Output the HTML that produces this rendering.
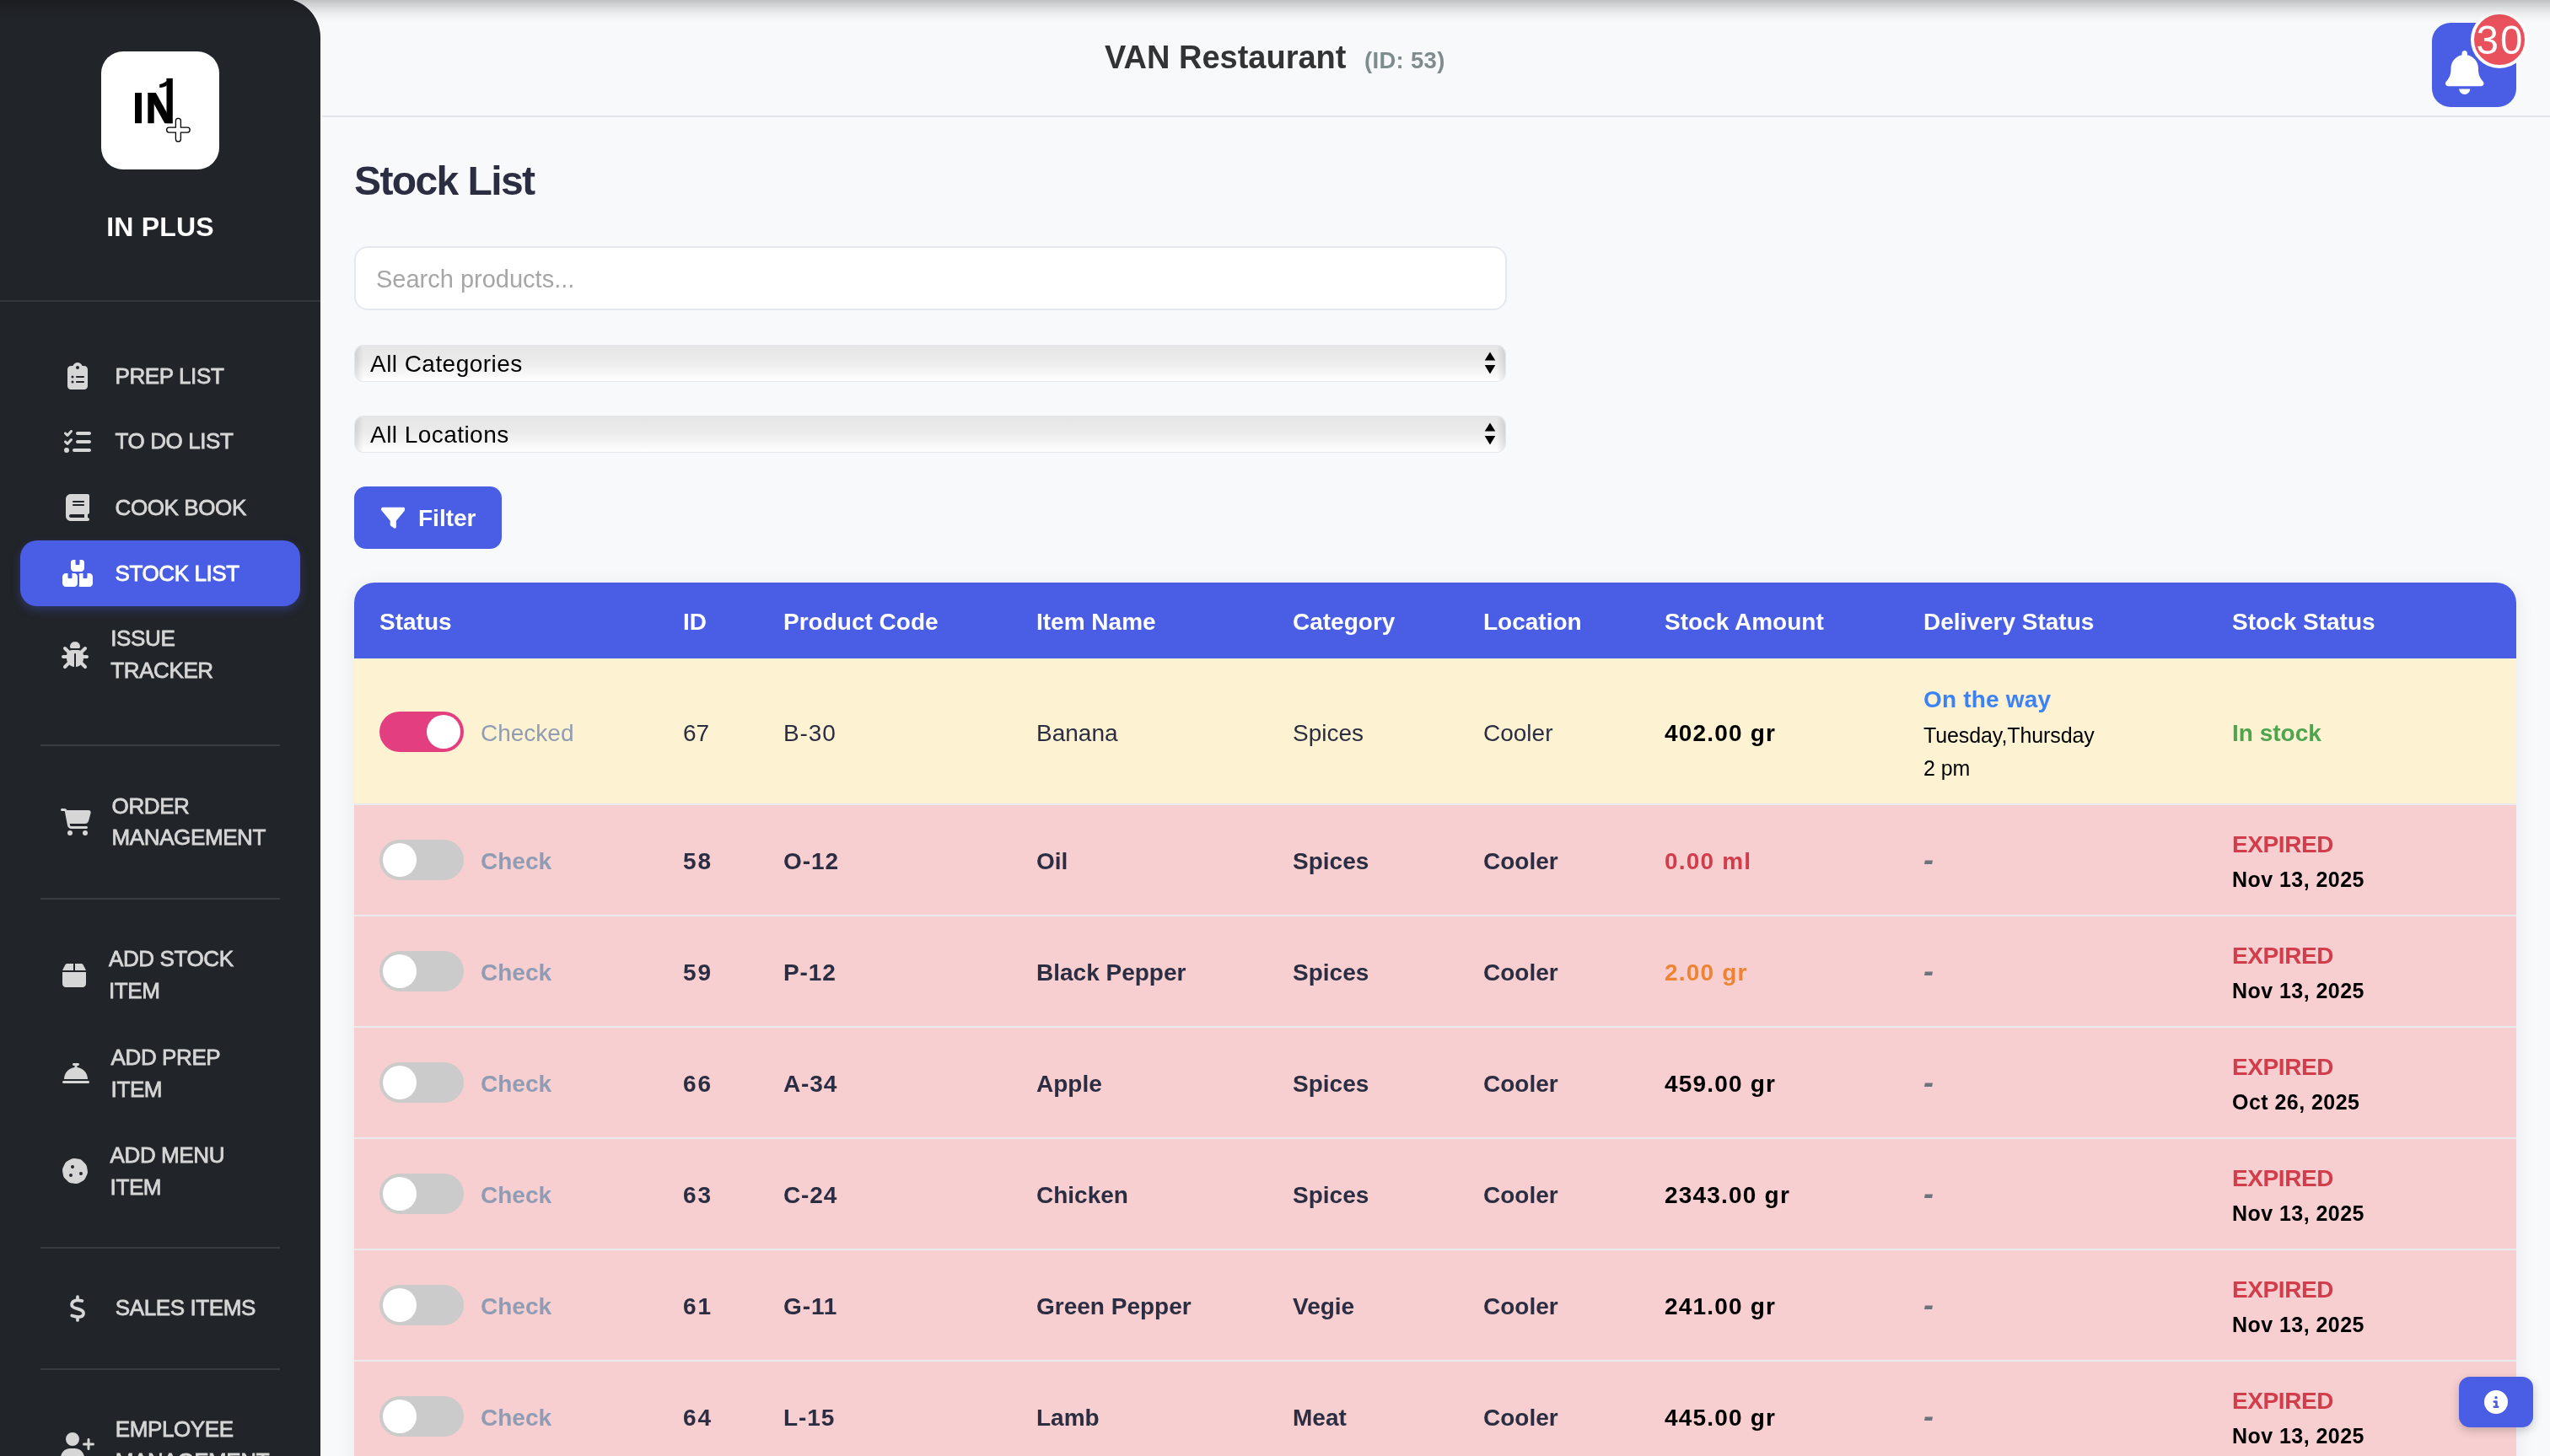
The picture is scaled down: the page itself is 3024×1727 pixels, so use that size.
<!DOCTYPE html>
<html lang="en">
<head>
<meta charset="utf-8">
<title>Stock List</title>
<style>
*{box-sizing:border-box;margin:0;padding:0}
html,body{width:3024px;height:1727px;overflow:hidden}
body{font-family:"Liberation Sans",sans-serif;background:#f8f9fb;position:relative;color:#2b2d42}
.abs{position:absolute}
/* top shadow */
#topshade{left:0;top:0;width:3024px;height:30px;background:linear-gradient(to bottom,rgba(0,0,0,.225) 0,rgba(0,0,0,.153) 5.5px,rgba(0,0,0,.093) 11px,rgba(0,0,0,.048) 16.5px,rgba(0,0,0,.016) 22px,rgba(0,0,0,0) 28px)}
/* sidebar */
#sidebar{left:0;top:-2px;width:380px;height:1729px;background:#212429;border-top-right-radius:46px 46px;overflow:hidden;box-shadow:2px 0 0 rgba(255,255,255,.55)}
#logo{left:120px;top:61px;width:140px;height:140px;background:#fff;border-radius:26px}
#brand{left:0;top:247px;width:380px;text-align:center;color:#fff;font-weight:700;font-size:32px;line-height:44px;letter-spacing:.2px}
.sdiv{left:48px;width:284px;height:2px;background:#393c42}
#shdiv{left:0;top:356px;width:380px;height:2px;background:#33363c}
.nav{color:#d6d6d6;font-size:26px;line-height:38px;font-weight:400;letter-spacing:-.4px;white-space:nowrap;-webkit-text-stroke:.8px #d6d6d6}
.nav.on{color:#fff;-webkit-text-stroke:.8px #fff}
#active{left:24px;top:641px;width:332px;height:78px;background:#4a5ee5;border-radius:20px;box-shadow:0 5px 12px -1px rgba(74,94,229,.36)}
.ico{position:absolute;fill:#d6d6d6}
/* header */
#hline{left:380px;top:137px;width:2644px;height:2px;background:#e2e5ec}
#title{left:1310px;top:44px;font-weight:700;font-size:38px;line-height:48px;color:#333;white-space:nowrap}
#rid{left:1618px;top:52px;font-weight:700;font-size:27.5px;letter-spacing:.3px;line-height:40px;color:#7f8c8d;white-space:nowrap}
#bell{left:2884px;top:27px;width:100px;height:100px;border-radius:22px;background:#4a5ee5}
#badge{left:2930px;top:13px;width:68px;height:68px;border-radius:50%;background:#e9525c;border:4px solid #fdfdfe;color:#fff;font-size:47.5px;line-height:62px;text-align:center;letter-spacing:2px;padding-left:2px}
/* content */
#h1{left:420px;top:186.300px;letter-spacing:-1.600px;font-size:48px;line-height:58px;font-weight:700;color:#2b2d42;white-space:nowrap}
#search{left:420px;top:292px;width:1367px;height:76px;border:2px solid #e6e8ef;border-radius:16px;background:#fff;color:#a6a6a6;font-size:29px;line-height:74px;padding-left:24px}
.sel{left:421px;width:1364px;height:42px;border-radius:10px;background:linear-gradient(to bottom,#e6e6e7 0,#eaeaea 40%,#f4f4f4 70%,#fefefe 100%);box-shadow:0 0 0 1px #e4e6ec;color:#000;font-size:28px;letter-spacing:.45px;line-height:44px;padding-left:18px;overflow:hidden}
.sel:before,.sel:after{content:"";position:absolute;top:0;width:10px;height:42px}
.sel:before{left:0;background:linear-gradient(to right,rgba(0,0,0,.10),rgba(0,0,0,0))}
.sel:after{right:0;background:linear-gradient(to left,rgba(0,0,0,.10),rgba(0,0,0,0))}
#filter{left:420px;top:577px;width:175px;height:74px;border-radius:14px;background:#4a5ee5;color:#fff;font-weight:700;font-size:28px;line-height:74px}
#filter span{position:absolute;left:76px;top:1px}
/* table */
#tbl{left:420px;top:691px;width:2564px;height:1100px;border-radius:24px 24px 0 0;overflow:hidden;box-shadow:0 4px 24px rgba(0,0,0,.07)}
#thead{left:0;top:0;width:2564px;height:90px;background:#4a5ee5;color:#fff;font-weight:700;font-size:28px;line-height:90px}
#thead span{position:absolute;top:2px;white-space:nowrap}
.row{left:0;width:2564px;height:132px;background:#f8cfd0;border-bottom:2px solid #e9e9ee;font-size:28px;font-weight:700;color:#2b2d42}
.row.y{background:#fdf2d1;height:174px;font-weight:400}
.row span{position:absolute;white-space:nowrap;line-height:40px}
.c1{left:150px;color:#8f9cb3}
.c2{left:390px}.c3{left:509px}.c4{left:809px}.c5{left:1113px}.c6{left:1339px}.c7{left:1554px}.c8{left:1861px}.c9{left:2227px}
.row span.mid{top:47px}
.row.y span.mid{top:69px}
.sw{position:absolute;left:30px;width:100px;height:48px;border-radius:24px;background:#cbcbcb;top:41px}
.sw i{position:absolute;left:4px;top:4px;width:40px;height:40px;border-radius:50%;background:#fff}
.sw.on{background:#e23e80;top:63px}
.sw.on i{left:56px}
.red{color:#d13d4a}.org{color:#ee8433}.blk{color:#000}.dash{color:#6c757d;font-size:36px;letter-spacing:0;font-style:italic;transform:translateY(-2.200px)}
.exp{color:#d13d4a;top:27px;letter-spacing:-.4px}
.dt{color:#000;font-size:25px;top:68px;letter-spacing:.45px}
.otw{color:#3b82f6;top:28.5px;font-weight:700;letter-spacing:.2px}
.d1,.d2{color:#000;font-weight:400;font-size:25px;letter-spacing:-.1px}
.d1{top:70.5px}.d2{top:110px}
.ins{color:#4fa44f;font-weight:700}
.b{font-weight:700}
.c7{letter-spacing:1.2px}
.row:not(.y) .c2{letter-spacing:2px}
.c3{letter-spacing:.9px}
#info{left:2916px;top:1633px;width:88px;height:60px;border-radius:13px;background:#4a5ee5;box-shadow:0 4px 12px rgba(0,0,0,.2)}
</style>
</head>
<body>
<div id="wrap" class="abs" style="left:0;top:0;width:3024px;height:1727px;will-change:transform;overflow:hidden">

<div id="hline" class="abs"></div>
<div id="title" class="abs">VAN Restaurant</div>
<div id="rid" class="abs">(ID: 53)</div>
<div id="bell" class="abs">
<svg class="abs" style="left:16px;top:32.700px" width="45.500" height="52" viewBox="0 0 448 512"><path fill="#fff" d="M224 0c-17.700 0-32 14.300-32 32l0 19.200C119 66 64 130.600 64 208l0 18.800c0 47-17.300 92.400-48.500 127.600l-7.400 8.300c-8.400 9.400-10.400 22.900-5.300 34.400S19.400 416 32 416l384 0c12.600 0 24-7.400 29.200-18.900s3.100-25-5.300-34.400l-7.400-8.300C401.300 319.200 384 273.900 384 226.800l0-18.800c0-77.400-55-142-128-156.800L256 32c0-17.700-14.300-32-32-32zm45.300 493.300c12-12 18.700-28.300 18.700-45.300l-64 0-64 0c0 17 6.700 33.300 18.700 45.300s28.300 18.700 45.300 18.700s33.300-6.700 45.300-18.700z"/></svg>
</div>
<div id="badge" class="abs">30</div>

<div id="h1" class="abs">Stock List</div>
<div id="search" class="abs">Search products...</div>
<div class="abs sel" style="top:410px">All Categories<svg class="abs" style="right:11.400px;top:7px" width="14" height="27" viewBox="0 0 14 27"><path d="M7 0.500L13.300 10.500H0.700ZM7 26.500L13.300 16H0.700Z" fill="#000"/></svg></div>
<div class="abs sel" style="top:494px">All Locations<svg class="abs" style="right:11.400px;top:7px" width="14" height="27" viewBox="0 0 14 27"><path d="M7 0.500L13.300 10.500H0.700ZM7 26.500L13.300 16H0.700Z" fill="#000"/></svg></div>
<div id="filter" class="abs"><svg class="abs" style="left:31.500px;top:22.500px" width="28.500" height="28.500" viewBox="0 0 512 512"><path fill="#fff" d="M3.900 54.900C10.500 40.900 24.500 32 40 32l432 0c15.500 0 29.500 8.900 36.100 22.900s4.600 30.500-5.200 42.500L320 320.900 320 448c0 12.100-6.800 23.200-17.700 28.600s-23.800 4.300-33.500-3l-64-48c-8.100-6-12.800-15.500-12.800-25.600l0-79.100L9 97.300C-.7 85.400-2.800 68.800 3.900 54.900z"/></svg><span>Filter</span></div>

<div id="tbl" class="abs">
<div id="thead" class="abs"><span style="left:30px">Status</span><span style="left:390px">ID</span><span style="left:509px">Product Code</span><span style="left:809px">Item Name</span><span style="left:1113px">Category</span><span style="left:1339px">Location</span><span style="left:1554px">Stock Amount</span><span style="left:1861px">Delivery Status</span><span style="left:2227px">Stock Status</span></div>
<div class="abs row y" style="top:90px"><div class="sw on"><i></i></div><span class="c1 mid">Checked</span><span class="c2 mid">67</span><span class="c3 mid">B-30</span><span class="c4 mid">Banana</span><span class="c5 mid">Spices</span><span class="c6 mid">Cooler</span><span class="c7 mid blk b">402.00 gr</span><span class="c8 otw">On the way</span><span class="c8 d1">Tuesday,Thursday</span><span class="c8 d2">2 pm</span><span class="c9 mid ins">In stock</span></div>
<div class="abs row" style="top:264px"><div class="sw"><i></i></div><span class="c1 mid">Check</span><span class="c2 mid">58</span><span class="c3 mid">O-12</span><span class="c4 mid">Oil</span><span class="c5 mid">Spices</span><span class="c6 mid">Cooler</span><span class="c7 mid red">0.00 ml</span><span class="c8 mid dash">-</span><span class="c9 exp">EXPIRED</span><span class="c9 dt">Nov 13, 2025</span></div>
<div class="abs row" style="top:396px"><div class="sw"><i></i></div><span class="c1 mid">Check</span><span class="c2 mid">59</span><span class="c3 mid">P-12</span><span class="c4 mid">Black Pepper</span><span class="c5 mid">Spices</span><span class="c6 mid">Cooler</span><span class="c7 mid org">2.00 gr</span><span class="c8 mid dash">-</span><span class="c9 exp">EXPIRED</span><span class="c9 dt">Nov 13, 2025</span></div>
<div class="abs row" style="top:528px"><div class="sw"><i></i></div><span class="c1 mid">Check</span><span class="c2 mid">66</span><span class="c3 mid">A-34</span><span class="c4 mid">Apple</span><span class="c5 mid">Spices</span><span class="c6 mid">Cooler</span><span class="c7 mid blk">459.00 gr</span><span class="c8 mid dash">-</span><span class="c9 exp">EXPIRED</span><span class="c9 dt">Oct 26, 2025</span></div>
<div class="abs row" style="top:660px"><div class="sw"><i></i></div><span class="c1 mid">Check</span><span class="c2 mid">63</span><span class="c3 mid">C-24</span><span class="c4 mid">Chicken</span><span class="c5 mid">Spices</span><span class="c6 mid">Cooler</span><span class="c7 mid blk">2343.00 gr</span><span class="c8 mid dash">-</span><span class="c9 exp">EXPIRED</span><span class="c9 dt">Nov 13, 2025</span></div>
<div class="abs row" style="top:792px"><div class="sw"><i></i></div><span class="c1 mid">Check</span><span class="c2 mid">61</span><span class="c3 mid">G-11</span><span class="c4 mid">Green Pepper</span><span class="c5 mid">Vegie</span><span class="c6 mid">Cooler</span><span class="c7 mid blk">241.00 gr</span><span class="c8 mid dash">-</span><span class="c9 exp">EXPIRED</span><span class="c9 dt">Nov 13, 2025</span></div>
<div class="abs row" style="top:924px"><div class="sw"><i></i></div><span class="c1 mid">Check</span><span class="c2 mid">64</span><span class="c3 mid">L-15</span><span class="c4 mid">Lamb</span><span class="c5 mid">Meat</span><span class="c6 mid">Cooler</span><span class="c7 mid blk">445.00 gr</span><span class="c8 mid dash">-</span><span class="c9 exp">EXPIRED</span><span class="c9 dt">Nov 13, 2025</span></div>
</div>

<div id="info" class="abs"><svg class="abs" style="left:30px;top:16px" width="28" height="28" viewBox="0 0 512 512"><path fill="#fff" d="M256 512A256 256 0 1 0 256 0a256 256 0 1 0 0 512zM216 336l24 0 0-64-24 0c-13.300 0-24-10.700-24-24s10.700-24 24-24l48 0c13.300 0 24 10.700 24 24l0 88 8 0c13.300 0 24 10.700 24 24s-10.700 24-24 24l-80 0c-13.300 0-24-10.700-24-24s10.700-24 24-24zm40-208a32 32 0 1 1 0 64 32 32 0 1 1 0-64z"/></svg></div>

<div id="sidebar" class="abs"><div class="abs" style="left:0;top:2px;width:380px;height:1727px">
<div id="logo" class="abs"><svg class="abs" style="left:0;top:0" width="140" height="140" viewBox="0 0 140 140"><g fill="#000"><rect x="40" y="49.100" width="8" height="36.100"/><rect x="55.300" y="49.100" width="7.400" height="36.100"/><path d="M55.300 49.100H64.800L84.800 85.200H75.300Z"/><rect x="77.500" y="31.900" width="7.300" height="53.300"/><path d="M79.800 31.900C77.500 36 73.500 38.400 69.200 38.900V43.100C72.700 42.900 75.600 42 77.800 40.600V31.900Z"/></g><path d="M88.400 82.300a3 3 0 0 1 6 0V90.100H102.200a3 3 0 0 1 0 6H94.400V103.900a3 3 0 0 1-6 0V96.100H80.600a3 3 0 0 1 0-6H88.400Z" fill="#fff" stroke="#000" stroke-width="1.300"/></svg></div>
<div id="brand" class="abs">IN PLUS</div>
<div id="shdiv" class="abs"></div>
<div id="active" class="abs"></div>
<div class="abs nav" style="left:136.5px;top:426.7px">PREP LIST</div>
<div class="abs nav" style="left:136.5px;top:504.3px">TO DO LIST</div>
<div class="abs nav" style="left:136.5px;top:582.7px">COOK BOOK</div>
<div class="abs nav on" style="left:136.5px;top:660.8px">STOCK LIST</div>
<div class="abs nav" style="left:131.300px;top:738.300px">ISSUE</div>
<div class="abs nav" style="left:131.300px;top:775.500px">TRACKER</div>
<div class="abs nav" style="left:132.6px;top:936.5px">ORDER</div>
<div class="abs nav" style="left:132.6px;top:974.4px">MANAGEMENT</div>
<div class="abs nav" style="left:129px;top:1118.3px">ADD STOCK</div>
<div class="abs nav" style="left:129px;top:1156.2px">ITEM</div>
<div class="abs nav" style="left:131.6px;top:1235.2px">ADD PREP</div>
<div class="abs nav" style="left:131.6px;top:1272.7px">ITEM</div>
<div class="abs nav" style="left:130.6px;top:1351.2px">ADD MENU</div>
<div class="abs nav" style="left:130.6px;top:1388.7px">ITEM</div>
<div class="abs nav" style="left:136.8px;top:1532.2px">SALES ITEMS</div>
<div class="abs nav" style="left:136.8px;top:1676.4px">EMPLOYEE</div>
<div class="abs nav" style="left:136.8px;top:1714px">MANAGEMENT</div>
<div class="abs sdiv" style="top:883px"></div>
<div class="abs sdiv" style="top:1065px"></div>
<div class="abs sdiv" style="top:1479px"></div>
<div class="abs sdiv" style="top:1623px"></div>
<svg class="ico" style="left:80px;top:430px" width="24" height="32" viewBox="0 0 384 512"><path fill="#d6d6d6" fill-rule="evenodd" d="M192 0c-41.800 0-77.400 26.700-90.500 64L64 64C28.700 64 0 92.700 0 128L0 448c0 35.300 28.700 64 64 64l256 0c35.300 0 64-28.700 64-64l0-320c0-35.300-28.700-64-64-64l-37.500 0C269.400 26.700 233.800 0 192 0zm0 64a32 32 0 1 1 0 64 32 32 0 1 1 0-64zM72 272a24 24 0 1 1 48 0 24 24 0 1 1 -48 0zm104-16l128 0c8.800 0 16 7.200 16 16s-7.200 16-16 16l-128 0c-8.800 0-16-7.200-16-16s7.200-16 16-16zM72 368a24 24 0 1 1 48 0 24 24 0 1 1 -48 0zm88 0c0-8.800 7.200-16 16-16l128 0c8.800 0 16 7.200 16 16s-7.200 16-16 16l-128 0c-8.800 0-16-7.200-16-16z"/></svg>
<svg class="ico" style="left:76px;top:507.5px" width="32" height="32" viewBox="0 0 512 512"><path fill="#d6d6d6" fill-rule="evenodd" d="M152.100 38.200c9.900 8.900 10.700 24 1.800 33.900l-72 80c-4.400 4.900-10.600 7.800-17.200 7.900s-12.900-2.400-17.600-7L7 113C-2.300 103.600-2.300 88.400 7 79s24.600-9.400 33.900 0l22.100 22.100 55.100-61.200c8.900-9.900 24-10.700 33.900-1.800zm0 160c9.900 8.900 10.700 24 1.800 33.900l-72 80c-4.400 4.900-10.600 7.800-17.200 7.900s-12.900-2.400-17.600-7L7 273c-9.400-9.400-9.400-24.600 0-33.900s24.600-9.400 33.900 0l22.100 22.100 55.100-61.200c8.900-9.900 24-10.700 33.900-1.800zM224 96c0-17.700 14.300-32 32-32l224 0c17.700 0 32 14.300 32 32s-14.300 32-32 32l-224 0c-17.700 0-32-14.300-32-32zm0 160c0-17.700 14.300-32 32-32l224 0c17.700 0 32 14.300 32 32s-14.300 32-32 32l-224 0c-17.700 0-32-14.300-32-32zM160 416c0-17.700 14.300-32 32-32l288 0c17.700 0 32 14.300 32 32s-14.300 32-32 32l-288 0c-17.700 0-32-14.300-32-32zM48 368a48 48 0 1 1 0 96 48 48 0 1 1 0-96z"/></svg>
<svg class="ico" style="left:78px;top:586px" width="28" height="32" viewBox="0 0 448 512"><path fill="#d6d6d6" fill-rule="evenodd" d="M96 0C43 0 0 43 0 96L0 416c0 53 43 96 96 96l288 0 32 0c17.700 0 32-14.300 32-32s-14.300-32-32-32l0-64c17.700 0 32-14.300 32-32l0-320c0-17.700-14.300-32-32-32L384 0 96 0zm0 384l256 0 0 64L96 448c-17.700 0-32-14.300-32-32s14.300-32 32-32zm32-240c0-8.800 7.200-16 16-16l192 0c8.800 0 16 7.200 16 16s-7.200 16-16 16l-192 0c-8.800 0-16-7.200-16-16zm16 48l192 0c8.800 0 16 7.200 16 16s-7.200 16-16 16l-192 0c-8.800 0-16-7.200-16-16s7.200-16 16-16z"/></svg>
<svg class="ico" style="left:74px;top:664px" width="36" height="32" viewBox="0 0 576 512"><path fill="#fff" fill-rule="evenodd" d="M248 0L208 0c-26.500 0-48 21.500-48 48l0 112c0 35.300 28.700 64 64 64l128 0c35.300 0 64-28.700 64-64l0-112c0-26.500-21.500-48-48-48L328 0l0 80c0 8.800-7.200 16-16 16l-48 0c-8.800 0-16-7.200-16-16l0-80zM64 256c-35.300 0-64 28.700-64 64L0 448c0 35.300 28.700 64 64 64l160 0c35.300 0 64-28.700 64-64l0-128c0-35.300-28.700-64-64-64l-40 0 0 80c0 8.800-7.200 16-16 16l-48 0c-8.800 0-16-7.200-16-16l0-80-40 0zM352 512l160 0c35.300 0 64-28.700 64-64l0-128c0-35.300-28.700-64-64-64l-40 0 0 80c0 8.800-7.200 16-16 16l-48 0c-8.800 0-16-7.200-16-16l0-80-40 0c-15 0-28.800 5.100-39.700 13.800c4.900 10.400 7.700 22 7.700 34.200l0 160c0 12.200-2.800 23.800-7.700 34.200C323.200 506.900 337 512 352 512z"/></svg>
<svg class="ico" style="left:72.700px;top:761px" width="32" height="32" viewBox="0 0 512 512"><path fill="#d6d6d6" fill-rule="evenodd" d="M256 0c53 0 96 43 96 96l0 3.600c0 15.700-12.700 28.400-28.400 28.400l-135.100 0c-15.700 0-28.400-12.700-28.400-28.400l0-3.600c0-53 43-96 96-96zM41.400 105.400c12.500-12.500 32.800-12.500 45.300 0l64 64c.7 .7 1.300 1.400 1.900 2.100c14.200-7.300 30.400-11.400 47.500-11.400l112 0c17.100 0 33.200 4.100 47.500 11.400c.6-.7 1.200-1.400 1.900-2.100l64-64c12.500-12.500 32.800-12.500 45.300 0s12.500 32.800 0 45.300l-64 64c-.7 .7-1.400 1.300-2.100 1.900c6.200 12 10.100 25.300 11.100 39.500l64.300 0c17.700 0 32 14.300 32 32s-14.300 32-32 32l-64 0c0 24.600-5.500 47.800-15.400 68.600c2.200 1.300 4.200 2.900 6 4.800l64 64c12.500 12.500 12.500 32.800 0 45.300s-32.800 12.500-45.300 0l-63.100-63.100c-24.500 21.800-55.800 36.200-90.300 39.600L272 240c0-8.800-7.200-16-16-16s-16 7.200-16 16l0 239.200c-34.500-3.400-65.800-17.800-90.300-39.600L86.600 502.600c-12.500 12.500-32.800 12.500-45.300 0s-12.500-32.800 0-45.300l64-64c1.900-1.900 3.900-3.400 6-4.800C101.500 367.800 96 344.600 96 320l-64 0c-17.700 0-32-14.300-32-32s14.300-32 32-32l64.300 0c1.100-14.100 5-27.500 11.100-39.500c-.7-.6-1.400-1.200-2.100-1.900l-64-64c-12.500-12.500-12.500-32.800 0-45.300z"/></svg>
<svg class="ico" style="left:72px;top:959px" width="36" height="32" viewBox="0 0 576 512"><path fill="#d6d6d6" fill-rule="evenodd" d="M0 24C0 10.700 10.700 0 24 0L69.500 0c22 0 41.500 12.800 50.600 32l411 0c26.300 0 45.500 25 38.600 50.400l-41 152.300c-8.500 31.400-37 53.300-69.500 53.300l-288.500 0 5.400 28.500c2.200 11.300 12.100 19.500 23.600 19.500L488 336c13.300 0 24 10.700 24 24s-10.700 24-24 24l-288.300 0c-34.600 0-64.300-24.600-70.700-58.500L77.400 54.500c-.7-3.800-4-6.500-7.900-6.500L24 48C10.700 48 0 37.300 0 24zM128 464a48 48 0 1 1 96 0 48 48 0 1 1 -96 0zm336-48a48 48 0 1 1 0 96 48 48 0 1 1 0-96z"/></svg>
<svg class="ico" style="left:74px;top:1140.5px" width="28" height="32" viewBox="0 0 448 512"><path fill="#d6d6d6" fill-rule="evenodd" d="M50.700 58.500L0 160l208 0 0-128L93.700 32C75.500 32 58.900 42.300 50.700 58.500zM240 160l208 0L397.300 58.500C389.100 42.300 372.500 32 354.300 32L240 32l0 128zm208 32L0 192 0 416c0 35.300 28.700 64 64 64l320 0c35.300 0 64-28.700 64-64l0-224z"/></svg>
<svg class="ico" style="left:73.5px;top:1257px" width="32" height="32" viewBox="0 0 512 512"><path fill="#d6d6d6" fill-rule="evenodd" d="M216 64c-13.300 0-24 10.700-24 24s10.700 24 24 24l16 0 0 33.300C119.600 157.200 32 252.400 32 368l448 0c0-115.600-87.600-210.800-200-222.700l0-33.300 16 0c13.300 0 24-10.700 24-24s-10.700-24-24-24l-40 0-40 0zM24 400c-13.300 0-24 10.700-24 24s10.700 24 24 24l464 0c13.300 0 24-10.700 24-24s-10.700-24-24-24L24 400z"/></svg>
<svg class="ico" style="left:73px;top:1373px" width="32" height="32" viewBox="0 0 512 512"><path fill="#d6d6d6" fill-rule="evenodd" d="M247.200 17c-22.100-3.100-44.600 .9-64.400 11.400l-74 39.500C89.100 78.400 73.200 94.900 63.400 115L26.700 190.600c-9.800 20.100-13 42.900-9.100 64.900l14.500 82.800c3.900 22.100 14.600 42.300 30.700 57.900l60.300 58.400c16.100 15.600 36.600 25.600 58.700 28.700l83 11.700c22.100 3.100 44.600-.9 64.400-11.400l74-39.500c19.700-10.500 35.600-27 45.400-47.200l36.700-75.500c9.800-20.100 13-42.900 9.100-64.900l-14.600-82.800c-3.900-22.100-14.600-42.300-30.700-57.900L388.900 57.500c-16.100-15.600-36.600-25.600-58.700-28.700L247.200 17zM208 144a32 32 0 1 1 0 64 32 32 0 1 1 0-64zM144 336a32 32 0 1 1 64 0 32 32 0 1 1 -64 0zm224-64a32 32 0 1 1 0 64 32 32 0 1 1 0-64z"/></svg>
<svg class="ico" style="left:71.500px;top:1699px" width="40" height="32" viewBox="0 0 640 512"><path fill="#d6d6d6" fill-rule="evenodd" d="M96 128a128 128 0 1 1 256 0A128 128 0 1 1 96 128zM0 482.300C0 383.800 79.800 304 178.300 304l91.400 0C368.200 304 448 383.800 448 482.300c0 16.400-13.300 29.700-29.700 29.700L29.700 512C13.300 512 0 498.700 0 482.300zM504 312l0-64-64 0c-13.300 0-24-10.700-24-24s10.700-24 24-24l64 0 0-64c0-13.300 10.700-24 24-24s24 10.700 24 24l0 64 64 0c13.300 0 24 10.700 24 24s-10.700 24-24 24l-64 0 0 64c0 13.300-10.700 24-24 24s-24-10.700-24-24z"/></svg>
<svg class="ico" style="left:82px;top:1536px;fill:none" width="20" height="32" viewBox="0 0 320 512" fill="none" stroke="#d6d6d6" stroke-width="60" stroke-linecap="round" stroke-linejoin="round"><path d="M160 34V92M160 420V478"/><path d="M246 112C190 96 70 84 50 168C34 246 130 252 172 266C230 284 284 300 270 366C252 440 130 420 52 392"/></svg>
</div></div>
<div id="topshade" class="abs"></div>
</div>
</body>
</html>
